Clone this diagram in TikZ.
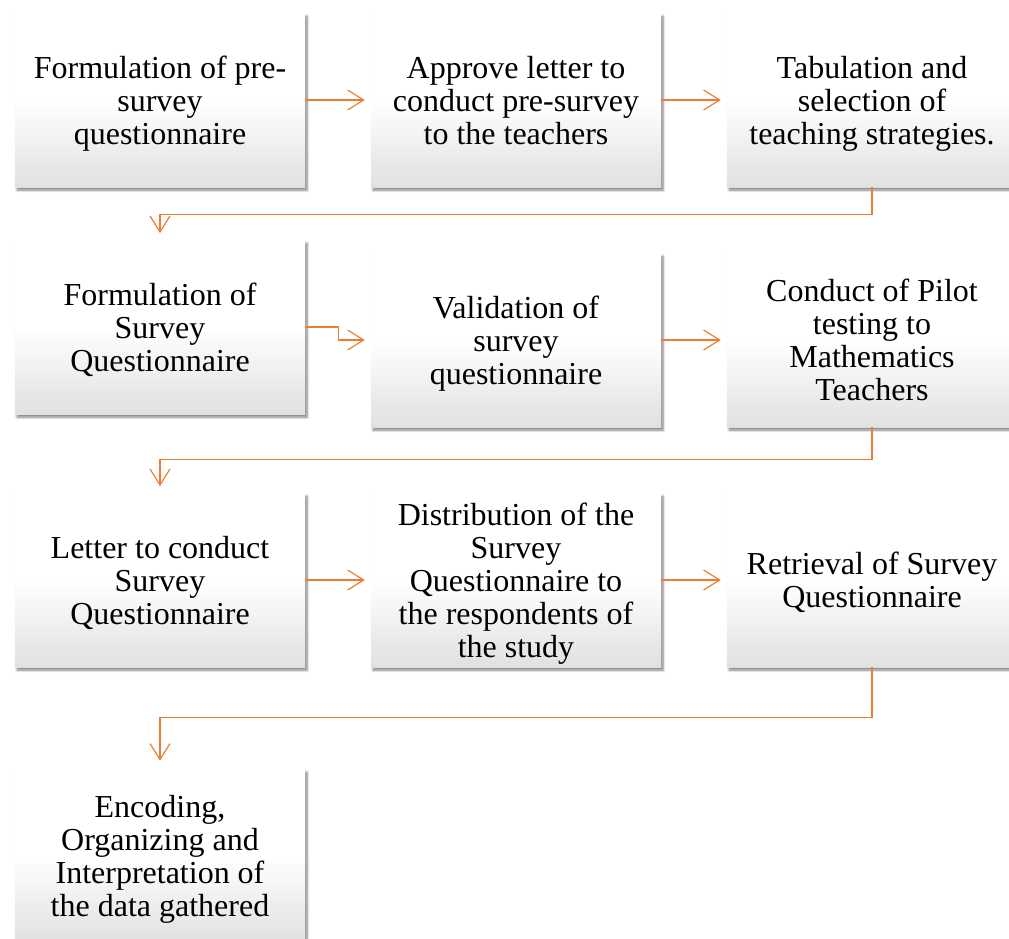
\documentclass[tikz,border=0pt]{standalone}
\usepackage{fontspec}
\setmainfont{Liberation Serif}
\usepackage{tikz}
\usetikzlibrary{arrows.meta,shadows.blur}
\definecolor{flowline}{HTML}{ED7D31}
\newcommand{\colone}[0]{160}
\newcommand{\coltwo}[0]{516}
\newcommand{\colthree}[0]{872}
\newcommand{\rowone}[0]{100}
\newcommand{\rowthree}[0]{580}
\tikzset{
  stepnode/.style={minimum width=217.5pt, minimum height=130.5pt, inner sep=0pt, align=center,
    text depth=0pt,
    top color=white, bottom color=black!12, middle color=white,
    blur shadow={shadow xshift=1.5pt, shadow yshift=-2.4pt, shadow blur steps=6, shadow opacity=50},
    font=\fontsize{24}{24.75}\selectfont},
  flow/.style={draw=flowline, line width=0.9pt, -{Straight Barb[length=12pt,width=15pt]}}
}
\begin{document}
\begin{tikzpicture}[x=0.75pt, y=-0.75pt]
\useasboundingbox (0,0) rectangle (1009,938);
% first row
\node[stepnode] (formpre) at (\colone,\rowone) {Formulation of pre-\\survey\\questionnaire};
\node[stepnode] (approve) at (\coltwo,\rowone) {Approve letter to\\conduct pre-survey\\to the teachers};
\node[stepnode] (tabulation) at (\colthree,\rowone) {Tabulation and\\selection of\\teaching strategies.};
% second row
\node[stepnode] (formsurvey) at (\colone,327) {Formulation of\\Survey\\Questionnaire};
\node[stepnode] (validation) at (\coltwo,340) {Validation of\\survey\\questionnaire};
\node[stepnode] (pilot) at (\colthree,340) {Conduct of Pilot\\testing to\\Mathematics\\Teachers};
% third row
\node[stepnode] (letter) at (\colone,\rowthree) {Letter to conduct\\Survey\\Questionnaire};
\node[stepnode] (distribution) at (\coltwo,\rowthree) {Distribution of the\\Survey\\Questionnaire to\\the respondents of\\the study};
\node[stepnode] (retrieval) at (\colthree,\rowthree) {Retrieval of Survey\\Questionnaire};
% last row
\node[stepnode] (encoding) at (\colone,856) {Encoding,\\Organizing and\\Interpretation of\\the data gathered};
% connectors
\draw[flow, shorten >=4.5pt] (formpre) -- (approve);
\draw[flow, shorten >=4.5pt] (approve) -- (tabulation);
\draw[flow, shorten >=5pt] (tabulation.south) -- ++(0,27) -| (formsurvey.north);
\draw[flow, shorten >=4.5pt] (formsurvey.east) -- ++(33,0) |- (validation.west);
\draw[flow, shorten >=4.5pt] (validation) -- (pilot);
\draw[flow, shorten >=5pt] (pilot.south) -- ++(0,32) -| (letter.north);
\draw[flow, shorten >=4.5pt] (letter) -- (distribution);
\draw[flow, shorten >=4.5pt] (distribution) -- (retrieval);
\draw[flow, shorten >=6pt] (retrieval.south) -- ++(0,50) -| (encoding.north);
\end{tikzpicture}
\end{document}
